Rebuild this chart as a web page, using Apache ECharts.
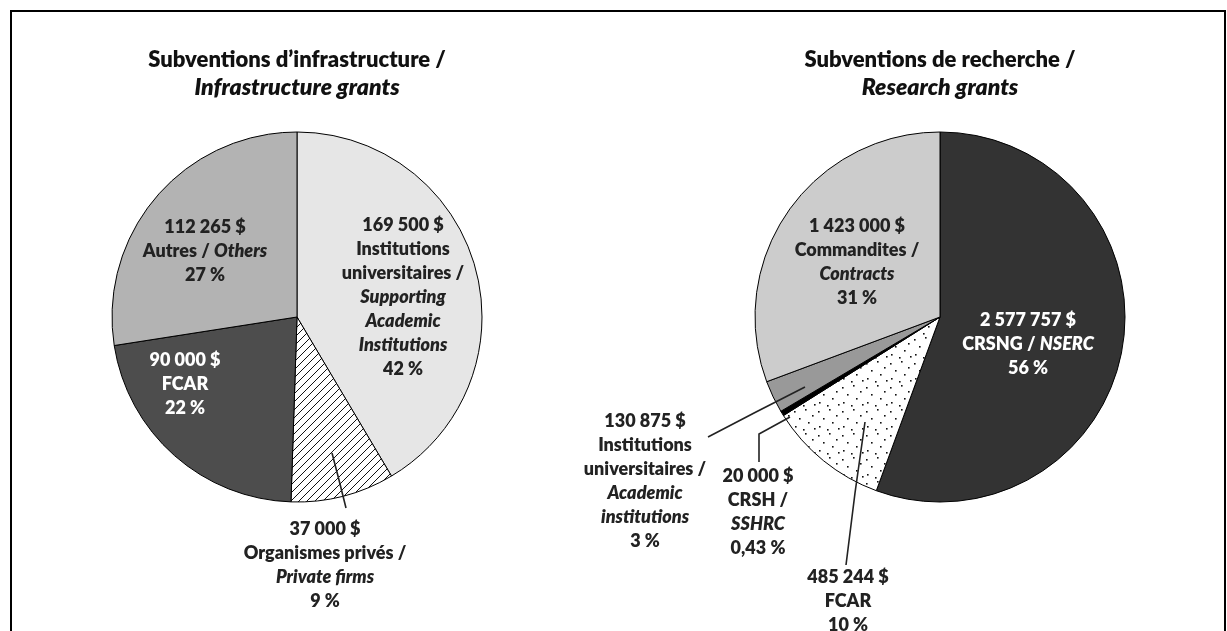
<!DOCTYPE html>
<html>
<head>
<meta charset="utf-8">
<script src="https://cdn.jsdelivr.net/npm/echarts@6/dist/echarts.min.js"></script>
<style>
html, body { margin: 0; padding: 0; background: #fff; }
#chart { width: 1227px; height: 631px; }
</style>
</head>
<body>
<div id="chart"></div>
<script>
// Subventions d'infrastructure / Infrastructure grants
var infraAmounts = [169500, 37000, 90000, 112265];
var infraFr = ['Institutions\nuniversitaires /', 'Organismes privés /', 'FCAR', 'Autres / '];
var infraEn = ['Supporting\nAcademic\nInstitutions', 'Private firms', '', 'Others'];
var infraPct = ['42 %', '9 %', '22 %', '27 %'];

// Subventions de recherche / Research grants
var researchAmounts = [2577757, 485244, 20000, 130875, 1423000];
var researchFr = ['CRSNG / ', 'FCAR', 'CRSH /', 'Institutions\nuniversitaires /', 'Commandites /'];
var researchEn = ['NSERC', '', 'SSHRC', 'Academic\ninstitutions', 'Contracts'];
var researchPct = ['56 %', '10 %', '0,43 %', '3 %', '31 %'];

// mise en page des étiquettes (centre du texte) et lignes de rappel
var infraLabelPos = [[403, 297], [325, 565], [185, 384], [205, 251]];
var infraLeaders = [null, [[346, 508], [339, 480], [332, 453]], null, null];
var researchLabelPos = [[1028, 344], [848, 601], [758, 512], [645, 481], [857, 262]];
var researchLeaders = [null, [[846, 565], [855, 493], [865, 422]], [[759, 462], [759, 434], [790, 417]], [[708, 437], [756, 412], [805, 387]], null];

var FONT = 'Lato';
var WEIGHT = 800;

function fmtMoney(n) {
    return String(n).replace(/\B(?=(\d{3})+(?!\d))/g, ' ') + ' $';
}

// motif hachuré
function hatchPattern() {
    var c = document.createElement('canvas');
    c.width = 8; c.height = 8;
    var g = c.getContext('2d');
    g.fillStyle = '#fff';
    g.fillRect(0, 0, 8, 8);
    g.strokeStyle = '#111';
    g.lineWidth = 1;
    g.beginPath();
    g.moveTo(-1, 9); g.lineTo(9, -1);
    g.moveTo(-1, 1); g.lineTo(1, -1);
    g.moveTo(7, 9); g.lineTo(9, 7);
    g.stroke();
    return c;
}
// motif pointillé
function dotPattern() {
    var c = document.createElement('canvas');
    c.width = 24; c.height = 24;
    var g = c.getContext('2d');
    g.fillStyle = '#fff';
    g.fillRect(0, 0, 24, 24);
    g.fillStyle = '#111';
    var pts = [[2, 3], [13, 1], [20, 7], [7, 10], [16, 14], [3, 18], [11, 21], [22, 20]];
    pts.forEach(function (p) { g.fillRect(p[0], p[1], 1.6, 1.6); });
    return c;
}

var infraColors = ['#e6e6e6', { image: hatchPattern(), repeat: 'repeat' }, '#4d4d4d', '#b3b3b3'];
var infraText = ['#222', '#222', '#fff', '#222'];
var researchColors = ['#333333', { image: dotPattern(), repeat: 'repeat' }, '#000000', '#999999', '#cccccc'];
var researchText = ['#fff', '#222', '#222', '#222', '#222'];

var rich = {
    v: { fontFamily: FONT, fontWeight: WEIGHT, fontSize: 18, lineHeight: 24 },
    e: { fontFamily: FONT, fontWeight: WEIGHT, fontStyle: 'italic', fontSize: 18, lineHeight: 24 }
};

function buildSlices(amounts, colors) {
    return amounts.map(function (v, i) {
        return { value: v, itemStyle: { color: colors[i] } };
    });
}

function buildLabels(amounts, fr, en, pct, textColors, leaders) {
    return amounts.map(function (v, i) {
        var s = '{v|' + fmtMoney(v) + '}\n{v|' + fr[i] + '}';
        if (en[i]) {
            s += (/ $/.test(fr[i]) ? '' : '\n') + '{e|' + en[i] + '}';
        }
        s += '\n{v|' + pct[i] + '}';
        return {
            value: v,
            label: { formatter: s, color: textColors[i] },
            labelLine: { show: !!leaders[i] }
        };
    });
}

// secteurs
function pieSeries(center, data) {
    return {
        type: 'pie',
        z: 2,
        center: center,
        radius: 185,
        startAngle: 90,
        clockwise: true,
        silent: true,
        itemStyle: { borderColor: '#000', borderWidth: 1 },
        label: { show: false },
        labelLine: { show: false },
        data: data
    };
}

// étiquettes et lignes de rappel, au-dessus des secteurs
function labelSeries(center, data, pos, leaders) {
    return {
        type: 'pie',
        z: 5,
        center: center,
        radius: 185,
        startAngle: 90,
        clockwise: true,
        avoidLabelOverlap: false,
        silent: true,
        itemStyle: { color: 'rgba(0,0,0,0)', borderWidth: 0 },
        label: {
            show: true,
            position: 'outside',
            align: 'center',
            rich: rich
        },
        labelLine: { show: true, lineStyle: { color: '#222', width: 1.6 } },
        labelLayout: function (p) {
            var o = {
                x: pos[p.dataIndex][0],
                y: pos[p.dataIndex][1],
                align: 'center',
                verticalAlign: 'middle'
            };
            if (leaders[p.dataIndex]) o.labelLinePoints = leaders[p.dataIndex];
            return o;
        },
        data: data
    };
}

var titleRich = {
    a: { fontFamily: FONT, fontWeight: WEIGHT, fontSize: 22, lineHeight: 28, color: '#111' },
    b: { fontFamily: FONT, fontWeight: WEIGHT, fontStyle: 'italic', fontSize: 23, lineHeight: 28, color: '#111' }
};

var chart = echarts.init(document.getElementById('chart'), null, { renderer: 'canvas' });
chart.setOption({
    backgroundColor: '#fff',
    animation: false,
    title: [{
        text: '{a|Subventions d’infrastructure /}\n{b|Infrastructure grants}',
        left: 297, top: 46, padding: 0, textAlign: 'center',
        textStyle: { rich: titleRich }
    }, {
        text: '{a|Subventions de recherche /}\n{b|Research grants}',
        left: 940, top: 46, padding: 0, textAlign: 'center',
        textStyle: { rich: titleRich }
    }],
    graphic: [{
        type: 'rect',
        shape: { x: 11, y: 11, width: 1214, height: 640 },
        style: { fill: 'none', stroke: '#000', lineWidth: 2 },
        silent: true
    }],
    series: [
        pieSeries([297, 317], buildSlices(infraAmounts, infraColors)),
        pieSeries([940, 317], buildSlices(researchAmounts, researchColors)),
        labelSeries([297, 317], buildLabels(infraAmounts, infraFr, infraEn, infraPct, infraText, infraLeaders), infraLabelPos, infraLeaders),
        labelSeries([940, 317], buildLabels(researchAmounts, researchFr, researchEn, researchPct, researchText, researchLeaders), researchLabelPos, researchLeaders)
    ]
});
</script>
</body>
</html>
